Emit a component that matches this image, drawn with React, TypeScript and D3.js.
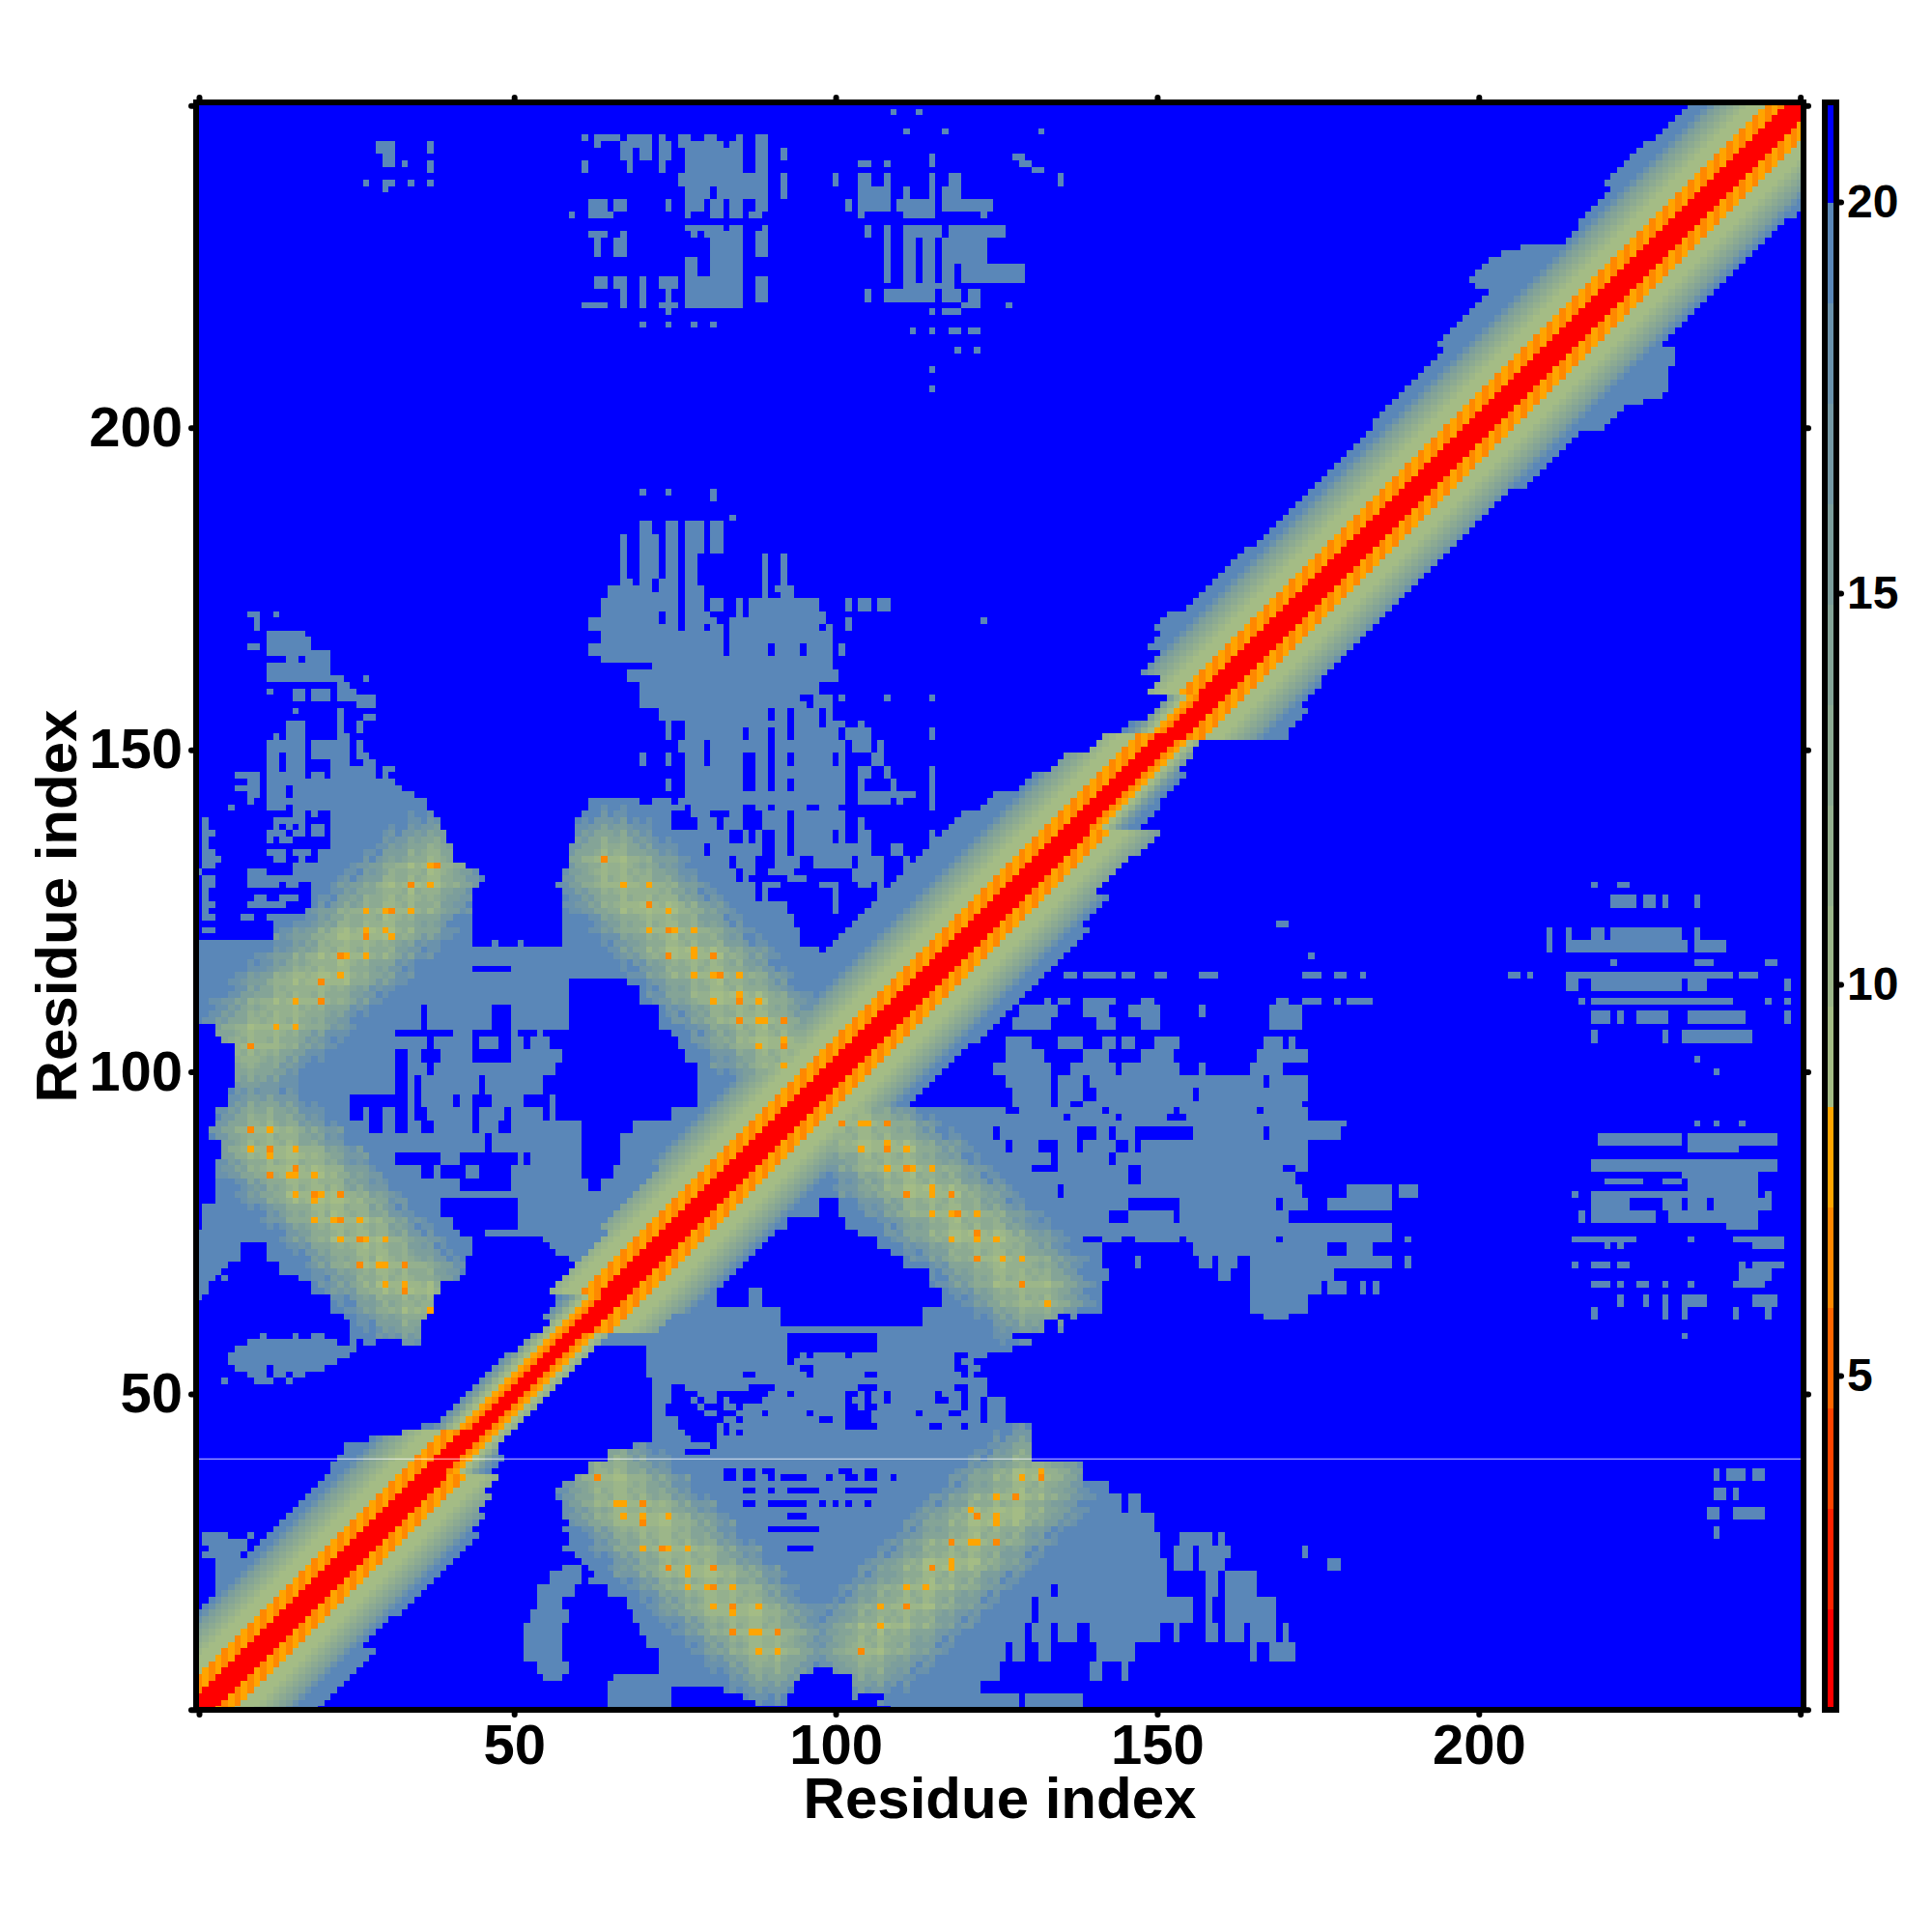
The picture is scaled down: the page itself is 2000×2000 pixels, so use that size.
import { useEffect, useRef } from 'react';
import * as d3 from 'd3';

const residueCount = 250;
const axisTicks = [1, 50, 100, 150, 200, 250];
const scaleTicks = [5, 10, 15, 20];
const scaleDomain = [0.73, 21.27];
const palette = [
  '#ff0000', '#ff2200', '#ff4400', '#ff6600', '#ff8800', '#ffa500',
  '#a4bc85', '#9cb689', '#94b08e', '#8caa92', '#84a497', '#7c9e9c',
  '#7498a4', '#6a92ac', '#5a87b8', '#0000ff'
];
const blueValue = 20.6;
const steelValue = 19.5;

const bandEvenRows = [1.5, 1.5, 1.5, 6.2, 7.8, 6.5, 9, 9, 9, 10, 11.5, 13, 14.5, 16, 17.5, 18.8, 19.5];
const bandOddRows = [1.5, 1.5, 1.5, 7.8, 6.2, 7.8, 9, 9, 9, 10, 11.5, 13, 14.5, 16, 17.5, 18.8, 19.5];
const pinchProfile = [1.5, 1.5, 6.2, 7.8, 9.3, 11, 15, 18, 19.5];

// how far the band reaches on each side, for residue 1..250 (row)
const upperReach = [
  14, 14, 14, 14, 14, 14, 14, 14, 14, 14, 14, 14, 14, 14, 14, 15, 15, 15, 15, 15, 15, 15, 15, 15, 16,
  16, 16, 16, 16, 16, 16, 16, 16, 16, 16, 16, 16, 16, 17, 17, 17, 18, 15, 11, 9, 7, 7, 7, 7, 7,
  7, 7, 7, 7, 7, 7, 6, 6, 6, 5, 5, 7, 7, 7, 8, 10, 10, 10, 10, 10, 10, 10, 10, 10, 10,
  12, 12, 12, 12, 12, 12, 12, 12, 12, 12, 14, 14, 14, 14, 14, 14, 14, 14, 14, 14, 14, 14, 14, 14, 14,
  20, 20, 20, 20, 20, 20, 20, 20, 20, 20, 20, 20, 20, 20, 20, 20, 20, 20, 20, 20, 20, 20, 20, 20, 20,
  20, 20, 20, 20, 20, 20, 20, 20, 20, 20, 20, 20, 20, 20, 20, 18, 18, 18, 15, 15, 15, 13, 13, 13, 10,
  10, 10, 8, 8, 6, 6, 6, 6, 10, 10, 10, 14, 14, 14, 14, 17, 17, 17, 19, 19, 19, 17, 17, 17, 17,
  17, 17, 17, 17, 17, 17, 16, 16, 16, 16, 16, 16, 16, 16, 16, 16, 16, 16, 16, 16, 16, 16, 16, 16, 16,
  17, 17, 17, 17, 17, 17, 17, 17, 17, 17, 17, 17, 19, 19, 19, 19, 19, 19, 19, 19, 19, 22, 24, 24, 24,
  24, 23, 21, 15, 15, 15, 16, 16, 16, 16, 16, 16, 18, 18, 18, 18, 18, 18, 18, 17, 17, 17, 17, 17, 17
];
const lowerReach = [
  18, 18, 18, 18, 18, 18, 18, 18, 18, 18, 15, 15, 15, 15, 15, 16, 16, 16, 16, 16, 16, 16, 16, 16, 16,
  16, 16, 16, 14, 14, 14, 12, 12, 12, 10, 10, 10, 8, 8, 8, 6, 5, 5, 5, 5, 5, 5, 5, 5, 5,
  5, 5, 5, 5, 5, 5, 5, 5, 5, 12, 12, 12, 15, 15, 15, 15, 15, 15, 15, 15, 15, 15, 15, 15, 15,
  15, 15, 15, 15, 15, 15, 15, 15, 15, 15, 15, 15, 15, 15, 15, 15, 15, 15, 16, 16, 16, 16, 16, 16, 16,
  16, 16, 16, 16, 17, 17, 17, 17, 17, 17, 17, 17, 17, 17, 17, 17, 17, 17, 17, 17, 17, 17, 15, 15, 15,
  15, 15, 12, 12, 12, 12, 12, 12, 13, 13, 13, 13, 9, 9, 9, 9, 8, 8, 8, 8, 8, 6, 6, 6, 5,
  5, 18, 17, 17, 17, 17, 15, 15, 15, 15, 14, 14, 14, 14, 14, 14, 14, 14, 14, 14, 14, 14, 14, 14, 14,
  14, 14, 14, 14, 14, 14, 14, 14, 14, 14, 14, 14, 14, 14, 14, 16, 16, 16, 16, 16, 16, 16, 16, 16, 19,
  19, 19, 19, 21, 23, 23, 22, 21, 20, 20, 19, 18, 15, 15, 15, 15, 15, 15, 15, 15, 15, 15, 15, 15, 15,
  15, 15, 15, 15, 15, 15, 15, 16, 16, 16, 16, 16, 16, 16, 16, 16, 16, 16, 16, 16, 16, 16, 16, 16, 16
];

// rows of contact cells: "row(s) span span ..."
const topSmallPatch = [
  '244-243 29-31 37', '242-241 30-31', '241 33 37', '240 37', '238 27 30-31 34 37', '237 30'
];
const topMiddlePatch = [
  '245 61 63-66 68-71 73 76-77 80-81 85 88-89',
  '244 63 67-71 73-74 76-79 80-82 84-85 88-89',
  '243-242 67-68 70-71 73-74 77-85 88-89 92',
  '241-240 61 68 73 77-85 88-89',
  '239-238 76-87 88-89 92',
  '237-236 77-80 82-87 88-89 92',
  '235-234 62-64 66-67 74 77-79 81-82 84-85 88-89',
  '233 59 62-65 77 81-82 84-85 87-88',
  '231 77-79 80-82 84-85 89',
  '230 62-64 67 78 80-85 88-89',
  '229-227 63 66-67 81-83 84-85 88-89',
  '226-224 77-78 81-83 84-85',
  '223-222 63-64 66-67 70 73-75 77-79 80-83 84-85 88-89',
  '221-220 67 70 74 77-79 80-83 84-85 88-89',
  '219 61-64 67 70 73-75 77-79 80-83 84-85',
  '218 74', '216 70 74 78 81'
];
const topRightPatch = [
  '249 109 113', '246 111 117 132', '242 115 128-129', '241 104 108 115 105 129-130', '240 131-132',
  '239-238 104-105 108 115 118-119 100 135', '237-236 104-108 111 115 117-119',
  '235-234 102 104-108 110-115 117-119 120-124', '233 104 111-115 123',
  '231-230 105 108 111-113 114-116 118-120 121-126',
  '229-226 108 111-112 114-115 117-119 121-122 120-122 123',
  '225-223 108 111-112 114-115 117-118 120-123 120-122 124-129',
  '222 111-118', '221-220 105 108-115 117-119 121-122', '219 120-122 127',
  '218 115 117-119', '215 112 115 118-119 122 121', '212 119 122', '209 115', '206 115', '170 123'
];
const leftClusterPatch = [
  '171 9-10 13', '170-169 10', '168 12-17', '167 12-18', '166 9-10 12-18', '165 12-16 17-21', '164 15-16 18-21',
  '163-162 12-14 15-21', '161 12-14 15-21 22-23 27', '160 23-24', '159 12 16-17 19-21 23-25',
  '158 16-17 19-21 23-25 26-28', '157 26-28', '156 16 23', '155 23 27-28', '154-153 15-17 23 26', '152 13 15-17 23-24',
  '151-150 12-14 15-17 19-21 22-24 26', '149 12-13 15-17 19-21 22-24 26-27', '148 12-13 15-17 22-24 27-28',
  '147 12-13 15-17 22-28 30-31', '146 7-10 12-14 15-17 19-20 22-28 30', '145 9-10 12-14 15-17 18-31',
  '144 7-10 12-14 16-32', '143 9-10 12-14 16-34', '142 9 12-14 15-36', '141 6 12-14 16-36', '140 16-17 19 22-37',
  '139 2 13-17 22-38', '138 2 13 15 17 19-20 22-38', '137 2-3 12-14 16-17 19-20 22-39', '136 2 12 14-15 22-39',
  '135 2 22-40', '134 2-3 12-14 16-18 20-40', '133 2-4 13-14 17 20-40', '132 2-3 16-42', '131 1 9-11 16-44',
  '130 2-3 9-13 14-15 16-45', '129 2-3 9-13 15-16 19-44', '128 2 19-43', '127 2 10-11 14-16 19-43',
  '126 2-3 9-14 19-43', '125 2 18-43', '124 2-3 8-9 12-43', '123 13-43', '122 2-3 13-43', '121 13-43'
];
const centralTuftPatch = [
  '190 70 74 81', '189 81', '186 84', '185-184 70-71 74-75 77-79 81-82', '183-181 67 70-72 74-75 77-79 81-82',
  '180-177 67 70-72 74-75 77-78 89 92', '176 67-68 70-71 73-75 77-78 89 92', '175 65-69 70-71 73-75 77-79 89 91-93',
  '174 65-75 77-79 89 92-93', '173-172 64-75 77-79 81-82 85 87-97 102 104-105 107-108',
  '171 64-72 74-75 77-80 85 87-98', '170 62-72 74-75 77-81 84-98 102', '169 62-73 74-75 77-79 81-82 84-97 99 102',
  '168-167 64-82 84-99', '166-165 62-72 73-82 84-89 91-94 96-99 101', '164 64-72 73-99', '163 72-99', '162-161 68-100',
  '160-159 70-97', '158 70-94 97-99 101 108 115', '157 70-95 97-99', '156-155 73-75 76-89 91-92 94-97 99',
  '154 74 77-79 80-92 94 95-97 99-101 104', '153-152 74 77-79 80-85 87-89 91-92 94-97 98-100 102-105 115',
  '151-150 76 77-79 81-89 91-97 98-101 103-105 107', '149-148 70 74 77-79 81-83 84-85 88-89 91-92 94-99 101 106-107',
  '147-146 77-85 88-89 91-101 104-105 108 115', '145-144 74 77-85 88-89 91-92 94-101 104 109 115',
  '143 77-101 104-112 115', '142 62-69 72-74 76-101 104-108 110 115', '141 62-76 78-85 88-89 91-95 98-100 115',
  '140 61-74 78-80 84-85 89-92 94-101', '139-138 60-74 79-81 83-85 89-92 94-101 104', '137-136 60-83 86 88 91-92 94-99 101 104-105 115',
  '135-134 59-79 81-84 85-88 91-92 94-95 96-101 102-105 109-110', '133-132 59-83 85-87 91-94 97-102 104-107 111',
  '131-130 58-84 86-95 99-100 103-107', '129 57-87 89-92 94-100 103-105 107'
];
const mainMassRows = [
  '128-121 58-118', '120-108 1-110', '107-106 4-106', '105 5-105', '104-98 7-100', '97-95 6-97',
  '94-92 4-120', '91-90 3-120', '89-87 5-120', '86-80 4-120', '79-76 2-120', '75 1-120', '74 1-43 55-120',
  '73 1-7 12-43 56-120', '72 1-7 12-43 57-120', '71 1-7 12-42 59-120', '70 1-5 14-42 60-120', '69 1-4 14-42 61-120',
  '68 1-3 5 17-41 61-120', '67-66 1-2 19-38 62-120', '65 1 22-37 62-120', '64-63 22-37 62-120', '62 24-36 63-120',
  '61-60 25-35 63-120', '59 11 16 19-20 25-35 63-120', '58 9-22 25 27-28 33-35 62-120', '57 7-25 71-120', '56 6-24 71-120',
  '55 6-22 71-120', '54 7-11 13-20 71-120', '53 9-11 13-14 16-17 71-120', '52 5 10-12 15 72-120', '51-43 72-120',
  '42 69-120', '41-40 65-120', '39-38 62-120', '37 60-120', '36 58-120', '35-34 57-120', '33-32 58-120', '31 58-120',
  '30 59-120', '29 58-120', '28-27 59-120', '26 58-120', '25 60-120', '24 61-120', '23 58-60 62-120',
  '22 56-60 63-120', '21 56-60 62-120', '20-19 54-59 65-120', '18-17 54-57 68-120', '16-15 53-58 69-120',
  '14-13 52-57 70-120', '12-11 52-57 71-120', '10-9 52-57 73-120', '8-7 54-58 73-120', '6 55-57 66-120', '5 65-120',
  '4-3 65-120', '2-1 65-120',
  '28 2-5 9', '27 2-8', '26 3-8', '25 2-7', '24-16 4-10'
];
const rightFieldRows = [
  '123 169-170', '118 174', '115 136-137 139-143 145-146 150-151 157-159 173-175 178-179 182',
  '111 133 135-136 139-143 148-149 169-170 173-175 178 180-183', '110-109 129-134 139-142 146-150 157 168-172',
  '108-107 128-133 141-143 148-150 168-170 171-172', '105-104 127-130 135-138 142-143 145-146 150-153 167-169 171',
  '103-102 127-132 139-142 148-152 166-170 171-173', '101-100 125-133 137-138 139-143 145-153 157 165-169',
  '99-98 127-133 135-138 140-143 144-152 153-159 160-166 168-173', '97-96 128-133 135-138 141-143 144-155 157-159 160-169 170-173',
  '95 128-130 131-133 135-136 139-143 144-172', '94 120-126 129-141 143-152 154-165 167-173',
  '93 120-123 124-126 127-135 137-143 145-151 155-173', '92 120-130 131-179', '91-90 120-124 126-137 141-142 144-146 156-166 168-178',
  '89-88 120-123 124-126 128-131 135-137 139-143 146 148-173', '87-86 120-133 135-142 144-173', '85 120-130 135-145 148-169 172-173',
  '84-83 120-145 148-171', '82-81 120-134 136-168 169-172 180-186 188-190', '80-79 120-138 139-145 154-168 170-173 177-186',
  '78-77 120-138 139-142 146-152 154-170', '76-75 120-139 140-155 156-169 170-186', '74 120-138 142-144 147-153 155-168 170-175 176-186 189',
  '73-72 120-141 156-163 164-176 180-183', '71-70 120-141 147 157-158 160-162 165-186 189', '69-68 120-142 160-161 165-177',
  '67-66 120-141 165-175 177-179 182 184', '65-63 120-141 165-173', '62 120-134 137 167-170', '61-60 120-132 135',
  '59 120-127', '58 120-130', '57 120-127', '56-50 120-123', '49-46 120-122 124-126', '45-40 120-130',
  '39-37 120-138', '36-35 120-142', '34-32 120-144 146-147', '31-29 120-147 148-149', '28-27 120-149 150 154-158 160',
  '26-25 120-150 153-155 157-161 173', '24-23 120-138 139-151 153-155 157-160 177-178', '22-21 120-135 136-137 138-151 158-159 161-165',
  '20-19 120-133 135-151 158-159 161-165', '18-15 120-130 132-154 155 158 161-168',
  '14-12 120-127 128-129 131-133 135-137 140-150 153 158-159 161-163 165-168 170', '11-9 120-126 128-129 132-133 141-146 165 168-171',
  '8-6 120-125 140-141 145', '5-4 120-122', '3-1 120-122 123-128 130-138'
];
const rightClusterPatch = [
  '129 218 222-223', '127-126 221-224 226-227 229 234', '122-121 211 214 218-219 221-231 234', '120-119 211 214-232 234-236 237-238',
  '117 221 234-236 245-246', '115 205-206 208 214-239 241-243', '114-113 214-215 218-225 226-231 233-235 248',
  '111 216 218-232 233-239 245 248', '109-108 218-220 222 225-228 229 233-238 239-241 248', '106-105 218 229 232-242',
  '102 234', '100 237', '92 234 237 241', '90-89 219-221 222-224 225-231 233-246', '88 233-240', '86-85 218-228 229-243 244-246',
  '84 232-243', '83 220-225 229-231 233-243', '82 233-243', '81 215 218-235 236-243 245', '80-79 218-223 229-231 233-235 237-245', '78-77 216 218-227 230-234 235-243',
  '76 239-243', '74 215-224 233 240-241 242-247', '73 220 222 243-247', '70 215 218-220 222-223 241 243-247', '69-68 241-245',
  '67 218-220 222 225-226 229 233 240-244', '65-64 222 226 229 232-235 243-246', '63-62 218 229 232 240 245', '59 232',
  '38-37 237 239-241 243-244', '35-34 237-238 240', '32-31 236-237 240-244 244', '29-28 237'
];

// blue cells inside the contact areas
const holeRows = [
  '131 88-89 94-101', '130 87-92 96-100 102', '129 92-97 101-103', '128-127 88 90-99 101-106', '126-125 93-99 101-106', '124 94-105',
  '123 94-103', '122-120 95-102', '119 98-100', '118 98', '121-120 44-46 48-50 52-57', '116 44-49',
  '114 59-67', '113-111 59-69', '110-107 59-72 36 47-49', '106 58-74 32-34 35-40 44-49 51-53 55-58',
  '105-104 58-75 37 44 48-49 52 56-57', '103-102 58-76 32-33 36-38 44-49', '101-100 57-78 32-33 37', '99-97 57-78 32-33 35 45 55-57',
  '96-95 57-78 25-27 28-30 31-33 35 41 44-46 52-55', '94-93 57-74 25-26 28-29 32-33 35-36 44 49 55', '92-91 61-68 28-29 32-33 36-37 44 48-49',
  '90-88 61-66 46', '87-86 61-66 32-34 35-37 38 42-43 44-50 52', '85-84 61-65 36-37 39-40 41-42 45-49', '83-82 62-63 42-45 46-49',
  '80-78 39-50 98-100', '77-76 41-45 46-50 93-101', '75 42-45 91-103', '74-73 89-106', '72 88-108', '71-70 86-110', '69-67 83-114',
  '66-64 82-86 89-116', '63-61 92-113', '59-57 93-106', '56 93-94 96 102 119-120', '55 93 119 122-123', '54 95-96 119-120 123',
  '53 86-87 96 105-106 120 122-123', '51 75-76 87-90 104-106 119-120', '50 75-78 82-84 85-89 93 102-103 105 108 116 120',
  '49 75-77 79 82 84-88 102 105 108 116-117 120', '48 74-78 80-81 82 85 102-103 105-106 120', '47 74-79 82-84 89 96 102-105 113 118-119',
  '46 76-82 85 98-99 102-105', '45 76-81 83 102-106 115-116 120', '44 77-81 83 85', '43 78-81', '42 81', '41 77-80',
  '38 83-84 86-87 89-90 101-102 105-106', '37 83-84 86-87 90 92-95 99 102-103 105-106 109', '35 86-87 90 93-97 102-106',
  '33 86-87 90-95 98 100 102 105', '31 93-95', '29 90-97', '26 93-96', '7 97-99', '6 95-102', '5 94-102', '4 75-82 94-102',
  '3 75-85 93-102 104-107', '2 75-87 93-106', '1 75-108'
];

// strand pairings: ridge ends and the brightest cells on each, as x,y pairs
const ridgeEnds = [[9, 104, 37, 131], [11, 90, 35, 65], [65, 132, 93, 102], [103, 92, 131, 66], [65, 36, 90, 11], [105, 11, 131, 37]];
const hotA = [34, 129, 37, 129, 37, 132, 38, 132, 27, 125, 30, 125, 31, 125, 34, 125, 27, 122, 27, 121, 30, 122, 31, 121, 23, 118, 24, 118, 27, 118, 20, 114, 23, 115, 16, 111, 20, 111, 13, 107, 16, 107, 9, 104];
const hotB = [9, 91, 12, 91, 9, 88, 12, 88, 12, 87, 16, 88, 12, 84, 15, 84, 16, 84, 16, 85, 19, 84, 16, 81, 19, 81, 19, 80, 20, 81, 23, 81, 19, 77, 22, 77, 23, 77, 26, 77, 23, 74, 26, 74, 27, 74, 30, 74, 26, 70, 29, 70, 30, 70, 33, 70, 30, 67, 33, 67, 33, 66, 37, 63];
const hotC = [64, 133, 67, 129, 71, 129, 71, 126, 74, 125, 71, 122, 74, 122, 75, 122, 78, 122, 74, 118, 78, 119, 78, 118, 81, 118, 78, 115, 81, 115, 82, 115, 85, 115, 81, 111, 85, 111, 85, 112, 88, 111, 85, 108, 88, 108, 89, 108, 92, 108, 88, 104, 92, 105, 92, 104, 92, 101];
const hotD = [101, 92, 104, 92, 105, 92, 108, 92, 104, 88, 108, 89, 108, 88, 111, 88, 108, 85, 111, 85, 112, 85, 115, 85, 111, 81, 115, 82, 115, 81, 118, 81, 115, 78, 118, 78, 119, 78, 122, 78, 118, 74, 122, 75, 122, 74, 125, 74, 122, 71, 126, 71, 129, 71, 129, 67, 133, 64];
const hotE = [63, 37, 67, 33, 66, 33, 70, 33, 67, 31, 70, 31, 70, 30, 74, 31, 70, 26, 73, 26, 74, 26, 77, 26, 74, 23, 77, 23, 77, 22, 81, 23, 77, 20, 80, 20, 81, 20, 84, 20, 81, 17, 84, 17, 84, 16, 88, 17, 84, 13, 87, 13, 88, 13, 91, 13, 88, 10, 91, 10];
const hotF = [104, 10, 107, 14, 107, 17, 111, 17, 111, 20, 114, 20, 115, 23, 118, 23, 118, 24, 118, 27, 121, 27, 122, 27, 122, 31, 121, 32, 125, 31, 125, 27, 125, 30, 125, 34, 128, 34, 129, 37, 132, 38, 132, 37];
const ridgeHot = [hotA, hotB, hotC, hotD, hotE, hotF];
const ridgeFalloff = [11, 11.4, 12, 12.6, 13.6, 14.8, 16, 17.4, 18.6, 19.2];

const parseRows = (rows: string[]) =>
  rows.flatMap(row => {
    const [ys, ...spans] = row.split(' ');
    const [y0, y1 = y0] = ys.split('-').map(Number);
    return spans.map(span => {
      const [x0, x1 = x0] = span.split('-').map(Number);
      return { y0: Math.min(y0, y1), y1: Math.max(y0, y1), x0, x1 };
    });
  });

const buildGrid = () => {
  const grid = d3.range(residueCount).map(() => new Array(residueCount).fill(blueValue));
  const paint = (rows: string[], value: number) => {
    parseRows(rows).forEach(s => {
      for (let y = s.y0; y <= s.y1; y += 1) {
        for (let x = s.x0; x <= s.x1; x += 1) grid[y - 1][x - 1] = value;
      }
    });
  };
  [topSmallPatch, topMiddlePatch, topRightPatch, leftClusterPatch, centralTuftPatch, mainMassRows, rightFieldRows, rightClusterPatch]
    .forEach(rows => paint(rows, steelValue));
  paint(holeRows, blueValue);

  // ridges
  ridgeEnds.forEach(([ax, ay, bx, by], r) => {
    const hot = ridgeHot[r];
    const hotXs = new Set(hot.filter((_, i) => i % 2 === 0));
    const hotYs = new Set(hot.filter((_, i) => i % 2 === 1));
    const len2 = (bx - ax) ** 2 + (by - ay) ** 2;
    for (let y = 1; y <= residueCount; y += 1) {
      for (let x = 1; x <= residueCount; x += 1) {
        const t = Math.max(0, Math.min(1, ((x - ax) * (bx - ax) + (y - ay) * (by - ay)) / len2));
        const d = Math.hypot(x - ax - t * (bx - ax), y - ay - t * (by - ay));
        const k = Math.round(d);
        if (k < ridgeFalloff.length && grid[y - 1][x - 1] < blueValue) {
          let v = ridgeFalloff[k] + ((x + y) % 2) * 0.9;
          if (hotXs.has(x)) v -= 1.6;
          if (hotYs.has(y)) v -= 1.6;
          grid[y - 1][x - 1] = Math.min(grid[y - 1][x - 1], Math.max(v, 8.6));
        }
      }
    }
    for (let i = 0; i < hot.length; i += 2) {
      grid[hot[i + 1] - 1][hot[i] - 1] = i % 6 === 0 ? 6.5 : 7.8;
    }
  });

  // diagonal band
  for (let y = 1; y <= residueCount; y += 1) {
    for (let x = 1; x <= residueCount; x += 1) {
      const sep = Math.abs(x - y);
      const reach = x < y ? upperReach[y - 1] : lowerReach[y - 1];
      if (sep <= reach) {
        const profile = reach <= 9 ? pinchProfile : y % 2 === 0 ? bandEvenRows : bandOddRows;
        const v = profile[Math.min(sep, profile.length - 1)];
        grid[y - 1][x - 1] = Math.min(grid[y - 1][x - 1], v);
      }
    }
  }
  return grid;
};

export default function App() {
  const ref = useRef<SVGSVGElement>(null);

  useEffect(() => {
    if (!ref.current) return;
    const svg = d3.select(ref.current);
    svg.selectAll('*').remove();

    const left = 203;
    const right = 1867;
    const top = 106;
    const bottom = 1770;
    const font = '"Liberation Sans", Arial, sans-serif';

    const x = d3.scaleLinear().domain([0.55, 250.5]).range([left, right]);
    const y = d3.scaleLinear().domain([0.95, 250.5]).range([bottom, top]);
    const level = d3.scaleQuantize<string>().domain(scaleDomain as [number, number]).range(palette);
    const grid = buildGrid();

    svg.append('defs').append('clipPath').attr('id', 'plot-clip')
      .append('rect').attr('x', left).attr('y', top).attr('width', right - left).attr('height', bottom - top);

    const cells = svg.append('g').attr('clip-path', 'url(#plot-clip)').attr('shape-rendering', 'crispEdges');
    grid.forEach((row, j) => {
      let start = 0;
      for (let i = 1; i <= row.length; i += 1) {
        if (i === row.length || level(row[i]) !== level(row[start])) {
          cells.append('rect')
            .attr('x', x(start + 0.5))
            .attr('width', x(i + 0.5) - x(start + 0.5))
            .attr('y', y(j + 1.5))
            .attr('height', y(j + 0.5) - y(j + 1.5))
            .attr('fill', level(row[start]));
          start = i;
        }
      }
    });

    svg.append('line')
      .attr('x1', left).attr('x2', right)
      .attr('y1', y(39.9)).attr('y2', y(39.9))
      .attr('stroke', '#ffffff').attr('stroke-opacity', 0.8).attr('stroke-width', 1);

    const blank = () => '';
    const label = (d: d3.NumberValue) => (+d === 1 || +d === residueCount ? '' : String(d));
    const styleAxis = (g: d3.Selection<SVGGElement, unknown, null, undefined>, size: number) => {
      g.select('.domain').remove();
      g.selectAll('line').attr('stroke', '#000').attr('stroke-width', 6).attr('stroke-linecap', 'round');
      g.selectAll('text').attr('fill', '#000').style('font-family', font).style('font-weight', 700).style('font-size', `${size}px`);
    };
    const addAxis = (tx: number, ty: number, axis: d3.Axis<d3.NumberValue>, size: number) => {
      const g = svg.append('g').attr('transform', `translate(${tx},${ty})`);
      g.call(axis as any);
      styleAxis(g as any, size);
    };

    addAxis(0, bottom, d3.axisBottom(x).tickValues(axisTicks).tickFormat(label).tickSize(5).tickPadding(10), 58);
    addAxis(left, 0, d3.axisLeft(y).tickValues(axisTicks).tickFormat(label).tickSize(5).tickPadding(9), 58);
    addAxis(0, top, d3.axisTop(x).tickValues(axisTicks).tickFormat(blank).tickSize(5), 58);
    addAxis(right, 0, d3.axisRight(y).tickValues(axisTicks).tickFormat(blank).tickSize(5), 58);

    svg.append('rect')
      .attr('x', left).attr('y', top).attr('width', right - left).attr('height', bottom - top)
      .attr('fill', 'none').attr('stroke', '#000').attr('stroke-width', 6);

    // colour scale
    const barScale = d3.scaleLinear().domain(scaleDomain).range([bottom, top]);
    const barLeft = 1889;
    const barRight = 1901;
    const step = (scaleDomain[1] - scaleDomain[0]) / palette.length;
    svg.append('g').attr('shape-rendering', 'crispEdges').selectAll('rect')
      .data(palette)
      .join('rect')
      .attr('x', barLeft).attr('width', barRight - barLeft)
      .attr('y', (_, i) => barScale(scaleDomain[0] + (i + 1) * step))
      .attr('height', barScale(scaleDomain[0]) - barScale(scaleDomain[0] + step))
      .attr('fill', d => d);
    svg.append('rect')
      .attr('x', barLeft).attr('y', top).attr('width', barRight - barLeft).attr('height', bottom - top)
      .attr('fill', 'none').attr('stroke', '#000').attr('stroke-width', 6);
    addAxis(barRight, 0, d3.axisRight(barScale).tickValues(scaleTicks).tickFormat(d => String(d)).tickSize(5).tickPadding(6), 48);

    svg.append('text')
      .attr('x', (left + right) / 2).attr('y', 1882)
      .attr('text-anchor', 'middle')
      .style('font-family', font).style('font-weight', 700).style('font-size', '60px')
      .text('Residue index');
    svg.append('text')
      .attr('transform', `translate(79,${(top + bottom) / 2}) rotate(-90)`)
      .attr('text-anchor', 'middle')
      .style('font-family', font).style('font-weight', 700).style('font-size', '60px')
      .text('Residue index');
  }, []);

  return <svg ref={ref} width={2000} height={2000} style={{ position: 'absolute', left: 0, top: 0, background: '#fff' }} />;
}
